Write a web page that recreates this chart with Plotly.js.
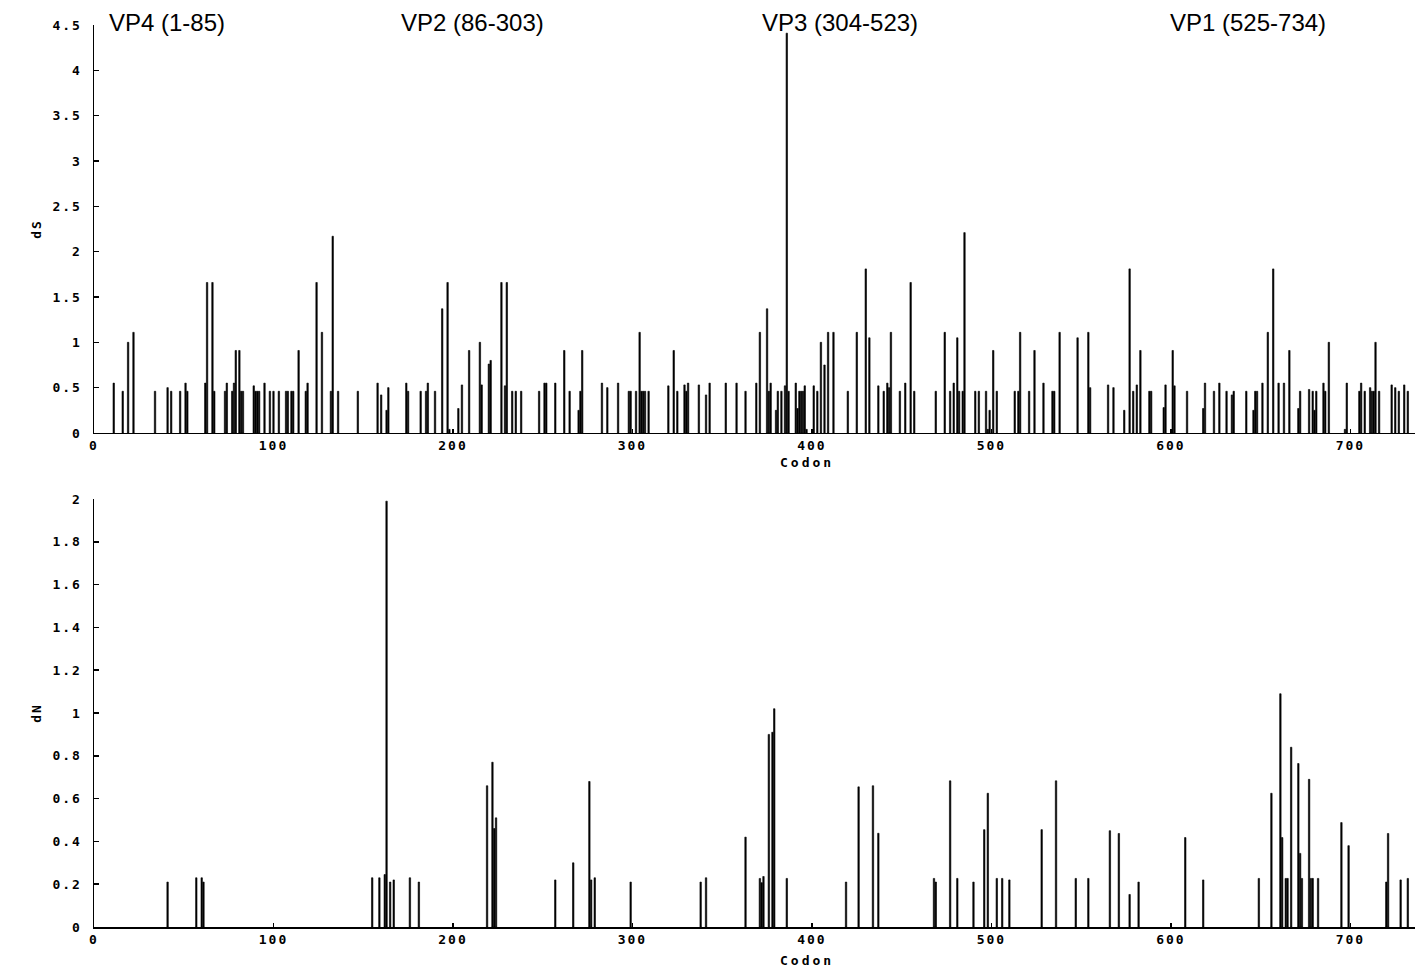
<!DOCTYPE html>
<html>
<head>
<meta charset="utf-8">
<script src="https://cdn.plot.ly/plotly-3.0.1.min.js"></script>
<style>
html, body { margin: 0; padding: 0; background: #fff; }
#chart { width: 1425px; height: 968px; }
.xtick text, .ytick text, .x2tick text, .y2tick text, .g-ytitle text, .g-y2title text { letter-spacing: 2px; }
</style>
</head>
<body>
<div id="chart"></div>
<script>
// dS per codon (top panel)
const dsCodon = [11,16,19,22,34,41,43,48,51,52,62,63,66,67,73,74,77,78,79,81,82,83,89,90,91,92,95,98,100,103,107,108,110,111,114,118,119,124,127,132,133,136,147,158,160,163,164,174,175,182,185,186,190,194,197,198,203,205,209,215,216,220,221,227,229,230,233,235,238,248,251,252,257,262,265,270,271,272,283,286,292,298,299,302,304,305,306,307,309,320,323,325,329,330,331,337,341,343,352,358,363,369,371,375,376,377,380,381,383,385,386,387,391,392,393,394,395,396,397,401,403,405,407,409,412,420,425,430,432,437,440,442,443,444,449,452,455,457,469,474,477,479,481,482,484,485,491,493,497,498,499,501,503,513,515,516,521,524,529,534,535,538,548,554,555,565,568,574,577,579,581,583,588,589,596,597,601,602,609,618,619,624,627,631,634,635,642,646,647,648,651,654,657,660,663,666,671,672,677,679,680,681,685,686,688,697,698,705,706,708,711,712,713,714,716,723,725,727,730,732];
const dsValue = [0.55,0.46,1.0,1.11,0.46,0.5,0.46,0.46,0.55,0.46,0.55,1.66,1.66,0.46,0.46,0.55,0.46,0.55,0.91,0.91,0.46,0.46,0.52,0.46,0.46,0.46,0.55,0.46,0.46,0.46,0.46,0.46,0.46,0.46,0.91,0.46,0.55,1.66,1.11,0.46,2.17,0.46,0.46,0.55,0.42,0.25,0.5,0.55,0.46,0.46,0.46,0.55,0.46,1.37,1.66,0.04,0.27,0.53,0.91,1.0,0.53,0.76,0.8,1.66,0.52,1.66,0.46,0.46,0.46,0.46,0.55,0.55,0.55,0.91,0.46,0.25,0.46,0.91,0.55,0.5,0.55,0.46,0.46,0.46,1.11,0.46,0.46,0.46,0.46,0.52,0.91,0.46,0.53,0.46,0.55,0.53,0.42,0.55,0.55,0.55,0.46,0.55,1.11,1.37,0.46,0.55,0.25,0.46,0.46,0.52,4.41,0.46,0.55,0.27,0.46,0.46,0.46,0.52,0.04,0.52,0.46,1.0,0.75,1.11,1.11,0.46,1.11,1.81,1.05,0.52,0.46,0.55,0.5,1.11,0.46,0.55,1.66,0.46,0.46,1.11,0.46,0.55,1.05,0.46,0.46,2.21,0.46,0.46,0.46,0.04,0.25,0.91,0.46,0.46,0.46,1.11,0.46,0.91,0.55,0.46,0.46,1.11,1.05,1.11,0.5,0.53,0.5,0.25,1.81,0.46,0.53,0.91,0.46,0.46,0.28,0.53,0.91,0.52,0.46,0.27,0.55,0.46,0.55,0.46,0.42,0.46,0.46,0.25,0.46,0.46,0.55,1.11,1.81,0.55,0.55,0.91,0.27,0.46,0.48,0.46,0.25,0.46,0.55,0.46,1.0,0.04,0.55,0.46,0.55,0.46,0.5,0.46,0.46,1.0,0.46,0.53,0.5,0.46,0.53,0.46];

// dN per codon (bottom panel)
const dnCodon = [41,57,60,61,155,159,162,163,165,167,176,181,219,222,223,224,257,267,276,277,279,299,338,341,363,371,372,373,376,378,379,386,419,426,434,437,468,469,477,481,490,496,498,503,506,510,528,536,547,554,566,571,577,582,608,618,649,656,661,662,664,665,667,671,672,673,677,678,679,682,695,699,720,721,728,732];
const dnValue = [0.21,0.23,0.23,0.21,0.23,0.23,0.245,1.99,0.21,0.22,0.23,0.21,0.66,0.77,0.46,0.51,0.22,0.30,0.68,0.22,0.23,0.21,0.21,0.23,0.42,0.227,0.207,0.236,0.90,0.91,1.02,0.227,0.21,0.655,0.66,0.438,0.227,0.21,0.683,0.227,0.21,0.455,0.625,0.227,0.227,0.22,0.455,0.683,0.227,0.227,0.45,0.437,0.152,0.21,0.418,0.22,0.227,0.625,1.09,0.418,0.227,0.227,0.84,0.764,0.344,0.227,0.69,0.227,0.227,0.227,0.488,0.38,0.21,0.437,0.22,0.227];

// region labels
const regionLabels = ["VP4 (1-85)", "VP2 (86-303)", "VP3 (304-523)", "VP1 (525-734)"];
const regionCenters = [40.4, 210.8, 415.5, 643];
const xTitle = "Codon";

const tickFont = {family: "DejaVu Sans Mono", size: 13, color: "#000", weight: "bold"};
const barStyle = {color: "#000", line: {color: "#000", width: 0.6}};

const traces = [
  {type: "bar", x: dsCodon, y: dsValue, xaxis: "x", yaxis: "y", width: 0.8, marker: barStyle, hoverinfo: "x+y"},
  {type: "bar", x: dnCodon, y: dnValue, xaxis: "x2", yaxis: "y2", width: 0.8, marker: barStyle, hoverinfo: "x+y"}
];

const xBase = {
  range: [0, 736], dtick: 100, tick0: 0, showgrid: false, zeroline: false,
  showline: true, linecolor: "#000", linewidth: 1.5,
  ticks: "inside", ticklen: 4, tickwidth: 1.5, tickcolor: "#000",
  tickfont: tickFont, fixedrange: true
};
const yBase = {
  showgrid: false, zeroline: false, showline: true, linecolor: "#000", linewidth: 1.5,
  ticks: "inside", ticklen: 5, tickwidth: 1.5, tickcolor: "#000",
  tickfont: tickFont, ticklabelstandoff: 8, fixedrange: true
};

const annotations = regionLabels.map((t, i) => ({
  text: t, x: regionCenters[i], xref: "x", y: 1.0033, yref: "paper",
  xanchor: "center", yanchor: "middle", showarrow: false,
  font: {family: "Liberation Sans, Arial, sans-serif", size: 24, color: "#000"}
}));
// x-axis titles (placed slightly right of centre, as in the reference)
[["x", 0.5477, 30], ["x2", 0, 33]].forEach(([xr, yp, dy]) => {
  annotations.push({
    text: '<span style="letter-spacing:3px">' + xTitle + '</span>',
    x: 397, xref: xr, y: yp, yref: "paper", yshift: -dy,
    xanchor: "center", yanchor: "middle", showarrow: false, font: tickFont
  });
});

const layout = {
  width: 1425, height: 968,
  margin: {l: 94, r: 10, t: 25, b: 41},
  paper_bgcolor: "#fff", plot_bgcolor: "#fff",
  showlegend: false, bargap: 0,
  xaxis: Object.assign({}, xBase, {domain: [0, 1], anchor: "y"}),
  yaxis: Object.assign({}, yBase, {domain: [0.5477, 1], anchor: "x", range: [0, 4.5], dtick: 0.5,
    title: {text: "dS", font: tickFont, standoff: 8}}),
  xaxis2: Object.assign({}, xBase, {domain: [0, 1], anchor: "y2"}),
  yaxis2: Object.assign({}, yBase, {domain: [0, 0.4745], anchor: "x2", range: [0, 2], dtick: 0.2,
    title: {text: "dN", font: tickFont, standoff: 8}}),
  annotations: annotations
};

Plotly.newPlot("chart", traces, layout, {displayModeBar: false, staticPlot: true});
</script>
</body>
</html>
